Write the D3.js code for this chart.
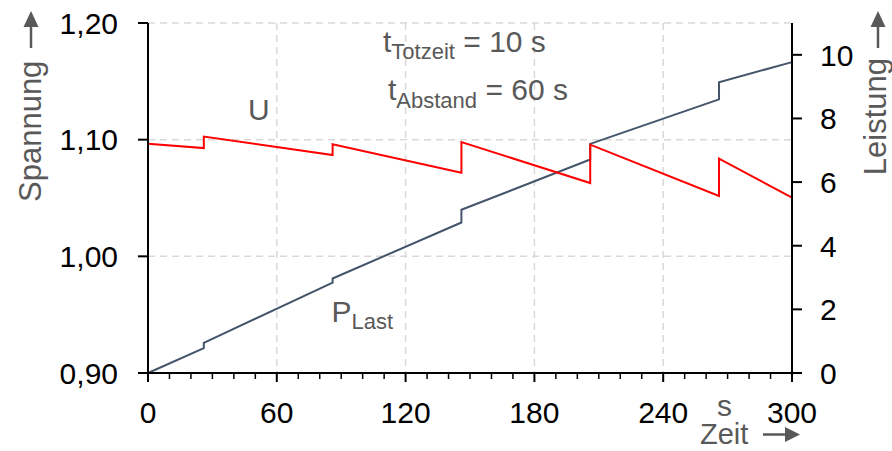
<!DOCTYPE html>
<html>
<head>
<meta charset="utf-8">
<script src="https://cdn.jsdelivr.net/npm/d3@7"></script>
<style>
  html, body { margin: 0; padding: 0; background: #fff; }
  svg { display: block; font-family: "Liberation Sans", Arial, sans-serif; }
</style>
</head>
<body>
<svg id="chart" width="892" height="451"></svg>
<script>
// ---- data ----
const timeSeconds = [0, 26, 26, 86, 86, 146, 146, 206, 206, 266, 266, 300];
const voltageU   = [1.0966, 1.0928, 1.1026, 1.0868, 1.0960, 1.0717, 1.0980, 1.0628, 1.0957, 1.0517, 1.0837, 1.0503];
const powerPLast = [0, 0.78, 0.95, 2.84, 2.97, 4.73, 5.13, 6.71, 7.20, 8.60, 9.14, 9.77];

const xTicks = [0, 60, 120, 180, 240, 300];
const xMinorTicks = d3.range(0, 301, 10);
const yLeftTicks = [0.90, 1.00, 1.10, 1.20];
const yRightTicks = [0, 2, 4, 6, 8, 10];

// ---- layout ----
const svg = d3.select("#chart");
const x = d3.scaleLinear().domain([0, 300]).range([148, 792]);
const yL = d3.scaleLinear().domain([0.9, 1.2]).range([373, 23]);
const yR = d3.scaleLinear().domain([0, 11]).range([373, 23]);

const fmtComma = d => d3.format(".2f")(d).replace(".", ",");
const grey = "#595959";
const gridColor = "#d9d9d9";

// grid
const grid = svg.append("g");
grid.selectAll("line.h").data([1.0, 1.1, 1.2]).join("line")
  .attr("x1", x(0)).attr("x2", x(300))
  .attr("y1", d => yL(d)).attr("y2", d => yL(d))
  .attr("stroke", gridColor).attr("stroke-width", 1.5).attr("stroke-dasharray", "7,5");
grid.selectAll("line.v").data([60, 120, 180, 240]).join("line")
  .attr("x1", d => x(d)).attr("x2", d => x(d))
  .attr("y1", yL(1.2)).attr("y2", yL(0.9))
  .attr("stroke", gridColor).attr("stroke-width", 1.5).attr("stroke-dasharray", "7,5");

// lines
const lineU = d3.line().x((d, i) => x(timeSeconds[i])).y(d => yL(d));
const lineP = d3.line().x((d, i) => x(timeSeconds[i])).y(d => yR(d));
svg.append("path").datum(powerPLast).attr("d", lineP)
  .attr("fill", "none").attr("stroke", "#44546a").attr("stroke-width", 2);
svg.append("path").datum(voltageU).attr("d", lineU)
  .attr("fill", "none").attr("stroke", "#ff0000").attr("stroke-width", 2);

// axes
const axisG = svg.append("g").attr("stroke", "#000").attr("stroke-width", 2);
// left axis
axisG.append("line").attr("x1", x(0)).attr("x2", x(0)).attr("y1", yL(1.2)).attr("y2", yL(0.9));
axisG.selectAll("line.lt").data(yLeftTicks).join("line")
  .attr("x1", x(0) - 10).attr("x2", x(0)).attr("y1", d => yL(d)).attr("y2", d => yL(d));
// right axis
axisG.append("line").attr("x1", x(300)).attr("x2", x(300)).attr("y1", yR(11)).attr("y2", yR(0));
axisG.selectAll("line.rt").data(yRightTicks).join("line")
  .attr("x1", x(300)).attr("x2", x(300) + 10).attr("y1", d => yR(d)).attr("y2", d => yR(d));
// bottom axis
axisG.append("line").attr("x1", x(0)).attr("x2", x(300)).attr("y1", yL(0.9)).attr("y2", yL(0.9));
axisG.selectAll("line.mn").data(xMinorTicks.filter(d => d % 60 !== 0)).join("line")
  .attr("x1", d => x(d)).attr("x2", d => x(d)).attr("y1", yL(0.9)).attr("y2", yL(0.9) + 6)
  .attr("stroke-width", 1.5);
axisG.selectAll("line.mj").data(xTicks).join("line")
  .attr("x1", d => x(d)).attr("x2", d => x(d)).attr("y1", yL(0.9)).attr("y2", yL(0.9) + 9);

// tick labels
const fs = 30;
svg.append("g").selectAll("text").data(xTicks).join("text")
  .attr("x", d => x(d)).attr("y", 422.7).attr("text-anchor", "middle")
  .attr("font-size", fs).attr("fill", "#000").text(d => d);
svg.append("g").selectAll("text").data(yLeftTicks).join("text")
  .attr("x", 118).attr("y", d => yL(d) + 10.8).attr("text-anchor", "end")
  .attr("font-size", fs).attr("fill", "#000").text(fmtComma);
svg.append("g").selectAll("text").data(yRightTicks).join("text")
  .attr("x", 820).attr("y", d => yR(d) + 10.8).attr("text-anchor", "start")
  .attr("font-size", fs).attr("fill", "#000").text(d => d);

// unit s
svg.append("text").attr("x", 717).attr("y", 416).attr("font-size", fs).attr("fill", grey).text("s");

// axis titles
svg.append("text").attr("transform", "translate(41,202) rotate(-90)")
  .attr("font-size", 31).attr("fill", grey).text("Spannung");
svg.append("text").attr("transform", "translate(886,58) rotate(-90)")
  .attr("text-anchor", "end").attr("font-size", 31).attr("fill", grey).text("Leistung");
svg.append("text").attr("x", 700).attr("y", 444)
  .attr("font-size", 29).attr("fill", grey).text("Zeit");

// arrows
function arrowUp(cx) {
  svg.append("line").attr("x1", cx).attr("x2", cx).attr("y1", 48).attr("y2", 25)
    .attr("stroke", grey).attr("stroke-width", 2.5);
  svg.append("path").attr("d", `M${cx - 7.5},27 L${cx},11 L${cx + 7.5},27 Z`).attr("fill", grey);
}
arrowUp(31);
arrowUp(878);
svg.append("line").attr("x1", 763).attr("x2", 787).attr("y1", 434.5).attr("y2", 434.5)
  .attr("stroke", grey).attr("stroke-width", 2.5);
svg.append("path").attr("d", "M785,427 L800,434.5 L785,442 Z").attr("fill", grey);

// annotations
svg.append("text").attr("x", 248).attr("y", 120).attr("font-size", fs).attr("fill", grey).text("U");

const pl = svg.append("text").attr("x", 331.5).attr("y", 321.7).attr("font-size", fs).attr("fill", grey);
pl.append("tspan").text("P");
pl.append("tspan").attr("font-size", 22).attr("dy", 7.5).text("Last");

const t1 = svg.append("text").attr("x", 383).attr("y", 51.7).attr("font-size", fs).attr("fill", grey);
t1.append("tspan").text("t");
t1.append("tspan").attr("font-size", 22).attr("dy", 7).text("Totzeit");
t1.append("tspan").attr("dy", -7).text(" = 10 s");

const t2 = svg.append("text").attr("x", 388).attr("y", 100).attr("font-size", fs).attr("fill", grey);
t2.append("tspan").text("t");
t2.append("tspan").attr("font-size", 22).attr("dy", 7.5).text("Abstand");
t2.append("tspan").attr("dy", -7.5).text(" = 60 s");
</script>
</body>
</html>
